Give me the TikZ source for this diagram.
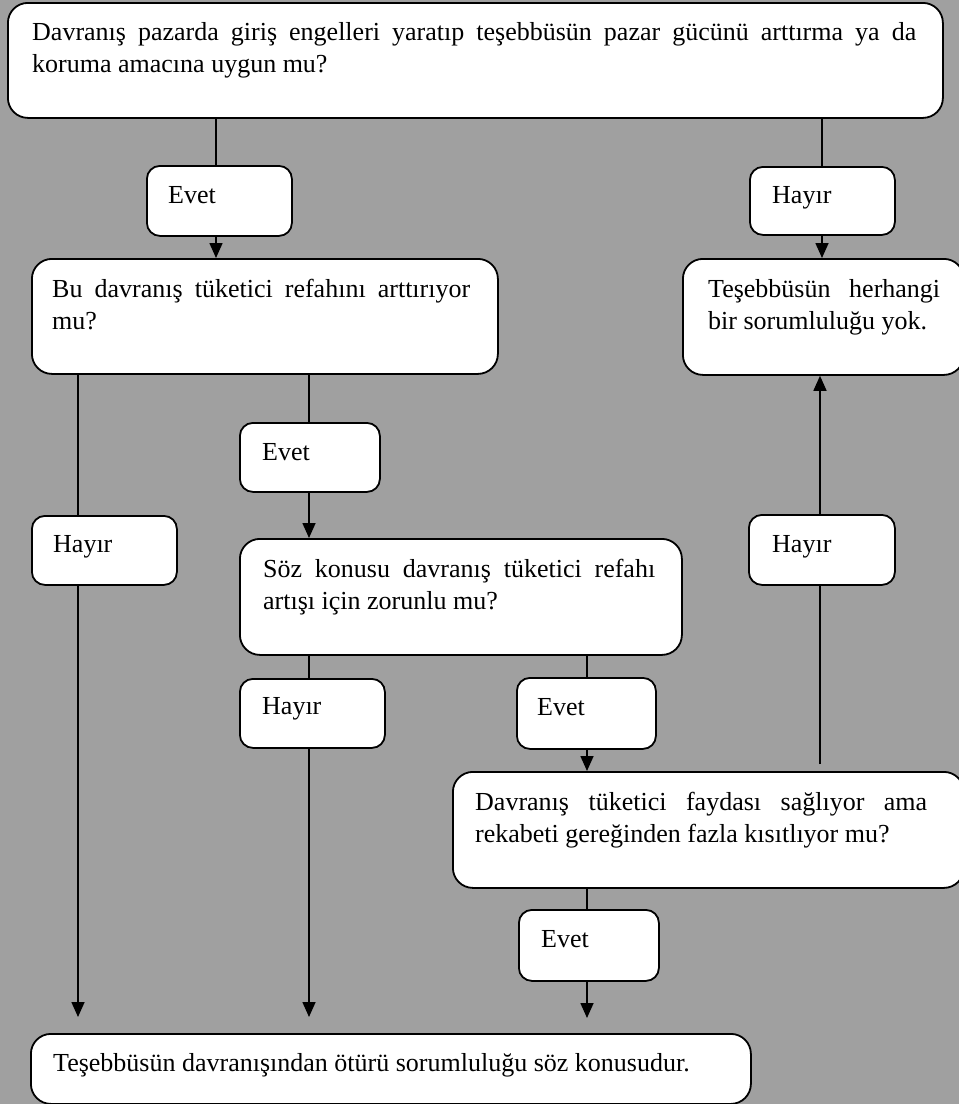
\documentclass[tikz,border=0pt]{standalone}
\usepackage{fontspec}
\setmainfont{Liberation Serif}
\usetikzlibrary{arrows.meta}
\pgfdeclarelayer{background}
\pgfsetlayers{background,main}
\definecolor{bggray}{RGB}{160,160,160}
\newcommand\jl[2]{\makebox[#1][s]{#2}}
\newcommand\twol[2]{\vtop{\baselineskip=32pt\hbox{#1}\hbox{#2}}}
\begin{document}
\begin{tikzpicture}[x=1pt,y=-1pt,
  box/.style={draw, line width=1.8pt, fill=white, rounded corners=20pt, inner sep=0pt, anchor=north west},
  sbox/.style={box, rounded corners=13pt},
  txt/.style={anchor=base west, inner sep=0pt, font=\fontsize{26}{32}\selectfont},
  conn/.style={line width=1.6pt},
  arr/.style={conn, -{Triangle[length=15pt,width=13pt]}}]
\clip (0,0) rectangle (959,1104);
% boxes
\node[box, minimum width=935pt, minimum height=115pt] (q1) at (7,2) {};
\node[sbox, minimum width=145pt, minimum height=70pt] (e1) at (146,165) {};
\node[sbox, minimum width=145pt, minimum height=68pt] (h1) at (749,166) {};
\node[box, minimum width=466pt, minimum height=115pt] (b1) at (31,258) {};
\node[box, minimum width=281pt, minimum height=116pt] (t1) at (682,258) {};
\node[sbox, minimum width=140pt, minimum height=69pt] (e2) at (239,422) {};
\node[sbox, minimum width=145pt, minimum height=69pt] (hL) at (31,515) {};
\node[sbox, minimum width=146pt, minimum height=70pt] (hR) at (748,514) {};
\node[box, minimum width=442pt, minimum height=116pt] (s1) at (239,538) {};
\node[sbox, minimum width=145pt, minimum height=69pt] (hM) at (239,678) {};
\node[sbox, minimum width=139pt, minimum height=71pt] (e3) at (516,677) {};
\node[box, minimum width=511pt, minimum height=116pt] (d1) at (452,771) {};
\node[sbox, minimum width=140pt, minimum height=71pt] (e4) at (518,909) {};
\node[box, minimum width=720pt, minimum height=70pt] (bot) at (30,1033) {};
% texts
\node[txt] (q1t) at (32,40) {\twol{\jl{884pt}{Davranış pazarda giriş engelleri yaratıp teşebbüsün pazar gücünü arttırma ya da}}{koruma amacına uygun mu?}};
\node[txt] (e1t) at (168,203) {Evet};
\node[txt] (h1t) at (772,203) {Hayır};
\node[txt] (b1t) at (52,297) {\twol{\jl{418pt}{Bu davranış tüketici refahını arttırıyor}}{mu?}};
\node[txt] (t1t) at (708,297) {\twol{\jl{232pt}{Teşebbüsün herhangi}}{bir sorumluluğu yok.}};
\node[txt] (e2t) at (262,460) {Evet};
\node[txt] (hLt) at (53,552) {Hayır};
\node[txt] (hRt) at (772,552) {Hayır};
\node[txt] (s1t) at (263,577) {\twol{\jl{392pt}{Söz konusu davranış tüketici refahı}}{artışı için zorunlu mu?}};
\node[txt] (hMt) at (262,714) {Hayır};
\node[txt] (e3t) at (537,715) {Evet};
\node[txt] (d1t) at (475,810) {\twol{\jl{452pt}{Davranış tüketici faydası sağlıyor ama}}{rekabeti gereğinden fazla kısıtlıyor mu?}};
\node[txt] (e4t) at (541,947) {Evet};
\node[txt] (bott) at (53,1071) {Teşebbüsün davranışından ötürü sorumluluğu söz konusudur.};
% columns
\coordinate (c1) at (216,0);
\coordinate (c2) at (822,0);
\coordinate (c3) at (78,0);
\coordinate (c4) at (309,0);
\coordinate (c5) at (587,0);
\coordinate (c6) at (820,0);
\begin{pgfonlayer}{background}
\fill[bggray] (0,0) rectangle (959,1104);
\draw[conn] (q1.south -| c1) -- (e1.north -| c1);
\draw[arr] (e1.south -| c1) -- (b1.north -| c1);
\draw[conn] (q1.south -| c2) -- (h1.north -| c2);
\draw[arr] (h1.south -| c2) -- (t1.north -| c2);
\draw[conn] (b1.south -| c3) -- (hL.north -| c3);
\draw[arr, shorten >=16pt] (hL.south -| c3) -- (bot.north -| c3);
\draw[conn] (b1.south -| c4) -- (e2.north -| c4);
\draw[arr] (e2.south -| c4) -- (s1.north -| c4);
\draw[conn] (s1.south -| c4) -- (hM.north -| c4);
\draw[arr, shorten >=16pt] (hM.south -| c4) -- (bot.north -| c4);
\draw[conn] (s1.south -| c5) -- (e3.north -| c5);
\draw[arr] (e3.south -| c5) -- (d1.north -| c5);
\draw[conn] (d1.south -| c5) -- (e4.north -| c5);
\draw[arr, shorten >=15pt] (e4.south -| c5) -- (bot.north -| c5);
\draw[conn, shorten <=7pt] (d1.north -| c6) -- (hR.south -| c6);
\draw[arr] (hR.north -| c6) -- (t1.south -| c6);
\end{pgfonlayer}
\end{tikzpicture}
\end{document}
